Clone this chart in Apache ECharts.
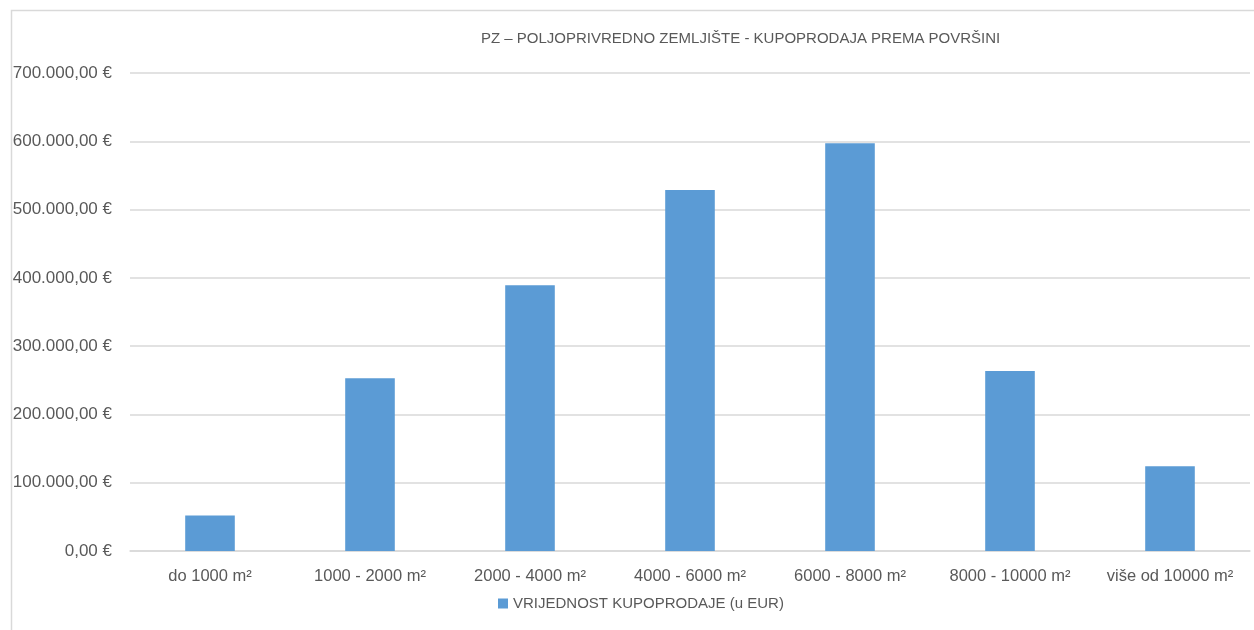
<!DOCTYPE html>
<html>
<head>
<meta charset="utf-8">
<script src="https://cdn.jsdelivr.net/npm/echarts@6/dist/echarts.min.js"></script>
<style>
  html, body { margin: 0; padding: 0; background: #fff; }
  #chart { width: 1254px; height: 630px; }
</style>
</head>
<body>
<div id="chart"></div>
<script>
const categories = ['do 1000 m²', '1000 - 2000 m²', '2000 - 4000 m²', '4000 - 6000 m²', '6000 - 8000 m²', '8000 - 10000 m²', 'više od 10000 m²'];
const values = [52000, 253000, 389000, 528500, 597000, 263500, 124000];
const seriesName = 'VRIJEDNOST KUPOPRODAJE (u EUR)';
const chartTitle = 'PZ – POLJOPRIVREDNO ZEMLJIŠTE - KUPOPRODAJA PREMA POVRŠINI';

const textColor = '#595959';
const gridColor = '#D9D9D9';
const barColor = '#5B9BD5';
const font = 'Liberation Sans';

const formatEur = (v) => {
  const parts = Number(v).toFixed(2).split('.');
  const intPart = parts[0].replace(/\B(?=(\d{3})+(?!\d))/g, '.');
  return `${intPart},${parts[1]} €`;
};

const chart = echarts.init(document.getElementById('chart'));

chart.setOption({
  backgroundColor: '#fff',
  animation: false,
  textStyle: { fontFamily: font },
  graphic: [
    {
      type: 'rect',
      left: 9,
      top: 8,
      shape: { width: 1400, height: 800 },
      style: { fill: 'none', stroke: gridColor, lineWidth: 1.5 },
      silent: true,
    },
  ],
  title: {
    text: chartTitle,
    left: 476,
    top: 26,
    textStyle: { color: textColor, fontSize: 15, fontWeight: 'normal', fontFamily: font },
  },
  legend: {
    top: 591,
    left: 493,
    icon: 'rect',
    itemWidth: 10,
    itemHeight: 10,
    itemGap: 4,
    textStyle: { color: textColor, fontSize: 15, fontFamily: font },
    data: [seriesName],
  },
  grid: { left: 130, right: 4, top: 73, bottom: 79, containLabel: false },
  xAxis: {
    type: 'category',
    data: categories,
    axisLine: { lineStyle: { color: gridColor, width: 1.5 } },
    axisTick: { show: false },
    axisLabel: { color: textColor, fontSize: 16.5, margin: 17, interval: 0, hideOverlap: false, fontFamily: font },
  },
  yAxis: {
    type: 'value',
    min: 0,
    max: 700000,
    interval: 100000,
    axisLine: { show: false },
    axisTick: { show: false },
    axisLabel: { color: textColor, fontSize: 17, margin: 18, fontFamily: font, formatter: formatEur },
    splitLine: { lineStyle: { color: gridColor, width: 1.5 } },
  },
  series: [
    {
      name: seriesName,
      type: 'bar',
      data: values,
      barWidth: '31%',
      itemStyle: { color: barColor },
    },
  ],
});
</script>
</body>
</html>
